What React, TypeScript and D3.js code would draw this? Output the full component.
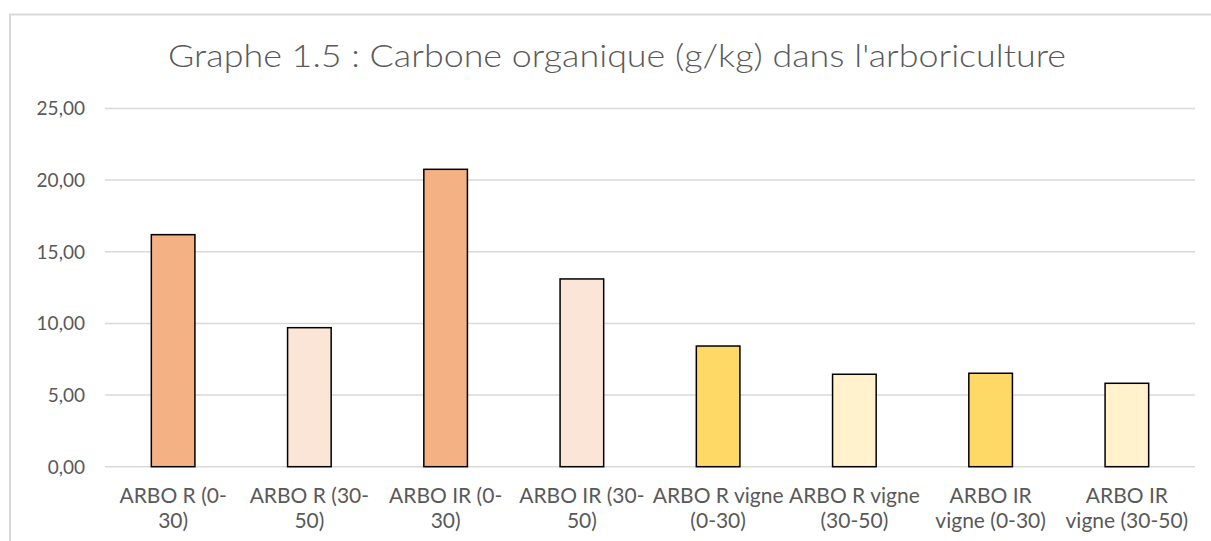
import React from "react";
import * as d3 from "d3";

const categories = [
  "ARBO R (0-30)",
  "ARBO R (30-50)",
  "ARBO IR (0-30)",
  "ARBO IR (30-50)",
  "ARBO R vigne (0-30)",
  "ARBO R vigne (30-50)",
  "ARBO IR vigne (0-30)",
  "ARBO IR vigne (30-50)",
];
const labelLines = [
  ["ARBO R (0-", "30)"],
  ["ARBO R (30-", "50)"],
  ["ARBO IR (0-", "30)"],
  ["ARBO IR (30-", "50)"],
  ["ARBO R vigne", "(0-30)"],
  ["ARBO R vigne", "(30-50)"],
  ["ARBO IR", "vigne (0-30)"],
  ["ARBO IR", "vigne (30-50)"],
];
const values = [16.19, 9.7, 20.75, 13.1, 8.42, 6.45, 6.52, 5.82];
const colors = ["#F4B183", "#FBE5D6", "#F4B183", "#FBE5D6", "#FFD966", "#FFF2CC", "#FFD966", "#FFF2CC"];
const yTicks = [0, 5, 10, 15, 20, 25];
const title = "Graphe 1.5 : Carbone organique (g/kg) dans l'arboriculture";

const W = 1211;
const H = 541;
const FONT = "Lato, 'Noto Sans', sans-serif";
const TEXT = "#595959";

export default function App() {
  const x = d3.scaleBand().domain(categories).range([105, 1195]).paddingInner(0.68).paddingOuter(0.34);
  const y = d3.scaleLinear().domain([0, 25]).range([466.7, 108.4]);
  const fmt = (v: number) => v.toFixed(2).replace(".", ",");

  return (
    <svg width={W} height={H} style={{ position: "fixed", left: 0, top: 0, background: "#fff" }}>
      <rect x={10} y={14.5} width={1300} height={700} fill="#fff" stroke="#d9d9d9" strokeWidth={2} />
      <text x={617} y={67} textAnchor="middle" fontFamily={FONT} fontWeight={300} fontSize={31} fill={TEXT} textLength={898} lengthAdjust="spacingAndGlyphs">
        {title}
      </text>
      {yTicks.map((t) => (
        <g key={t}>
          <line x1={105} x2={1195} y1={y(t)} y2={y(t)} stroke="#d9d9d9" strokeWidth={1.5} />
          <text x={85} y={y(t) + 7} textAnchor="end" fontFamily={FONT} fontSize={19} fill={TEXT}>
            {fmt(t)}
          </text>
        </g>
      ))}
      {categories.map((c, i) => (
        <rect
          key={c}
          x={x(c)!}
          y={y(values[i])}
          width={x.bandwidth()}
          height={y(0) - y(values[i])}
          fill={colors[i]}
          stroke="#000"
          strokeWidth={1.5}
        />
      ))}
      {categories.map((c, i) => (
        <text key={c + "l"} x={x(c)! + x.bandwidth() / 2} textAnchor="middle" fontFamily={FONT} fontSize={21} fill={TEXT}>
          {labelLines[i].map((l, j) => (
            <tspan key={j} x={x(c)! + x.bandwidth() / 2} y={503 + j * 24.5}>
              {l}
            </tspan>
          ))}
        </text>
      ))}
    </svg>
  );
}
